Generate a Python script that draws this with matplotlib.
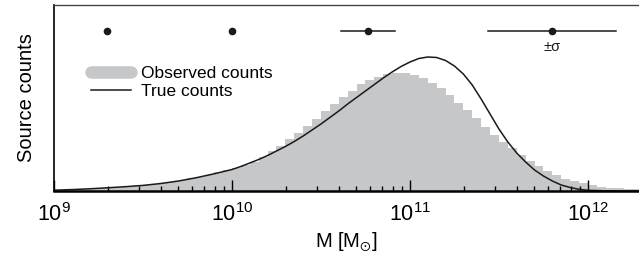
import numpy as np
import matplotlib
matplotlib.use("Agg")
import matplotlib.pyplot as plt
from matplotlib.lines import Line2D

plt.rcParams['font.family'] = ['Liberation Sans', 'DejaVu Sans']
plt.rcParams['mathtext.fontset'] = 'custom'
plt.rcParams['mathtext.rm'] = 'Liberation Sans'
plt.rcParams['mathtext.it'] = 'Liberation Sans:italic'
plt.rcParams['mathtext.bf'] = 'Liberation Sans:bold'
plt.rcParams['mathtext.fallback'] = 'stixsans'

# Histogram of observed counts: log10(M) bin edges start and width (dex)
bin_start = 9.0
bin_width = 0.05
observed_counts = [
    1.0, 1.3, 1.7, 2.2, 2.7, 3.2, 3.8, 4.4, 5.0, 5.6,
    6.4, 7.3, 8.3, 9.5, 11.0, 12.6, 14.5, 16.5, 18.7, 21.0,
    23.5, 26.5, 29.5, 34.5, 40.0, 45.5, 52.0, 58.0, 65.0, 72.0,
    80.0, 87.5, 94.0, 100.5, 107.0, 111.0, 114.5, 117.0, 118.0, 118.0,
    116.0, 113.0, 108.0, 103.0, 96.0, 88.0, 81.0, 73.0, 64.0, 56.0,
    49.0, 42.7, 36.0, 30.3, 25.0, 20.3, 16.0, 12.3, 9.7, 7.7,
    5.7, 4.3, 3.3, 2.7, 2.3, 2.0,
]

# True counts curve (log10 M, counts)
true_logm = [9.00, 9.10, 9.20, 9.30, 9.40, 9.50, 9.60, 9.70, 9.80, 9.90,
             10.00, 10.05, 10.10, 10.15, 10.20, 10.25, 10.30, 10.35, 10.40, 10.45,
             10.50, 10.55, 10.60, 10.65, 10.70, 10.75, 10.80, 10.85, 10.90, 10.95,
             11.00, 11.05, 11.10, 11.15, 11.20, 11.25, 11.30, 11.35, 11.40, 11.45,
             11.50, 11.55, 11.60, 11.65, 11.70, 11.75, 11.80, 11.85, 11.90, 11.95,
             12.00, 12.10, 12.20, 12.29]
true_counts = [0.8, 1.4, 2.2, 3.2, 4.3, 5.6, 7.5, 10.0, 13.3, 17.2,
               21.5, 24.5, 28.0, 31.5, 35.5, 40.0, 44.5, 49.5, 55.0, 61.0,
               67.0, 73.5, 80.0, 87.0, 93.5, 100.0, 106.5, 113.0, 119.0, 124.5,
               129.0, 132.5, 134.0, 133.5, 130.5, 125.0, 117.0, 106.0, 92.0, 77.0,
               62.0, 49.0, 38.0, 29.0, 21.0, 15.0, 10.0, 6.0, 3.5, 1.7,
               0.7, 0.2, 0.05, 0.0]

# Uncertainty markers: log10 M of point and +-sigma in dex
err_logm = [9.30, 10.00, 10.764, 11.80]
err_sigma = [0.0, 0.0, 0.15, 0.36]
err_level = 160.0

xlabel = r'M [M$_{\odot}$]'
ylabel = 'Source counts'

fig = plt.figure(figsize=(6.39, 2.61), dpi=100)
ax = fig.add_axes([54/639, 70/261, 585/639, 186/261])

edges = 10 ** (bin_start + bin_width * np.arange(len(observed_counts) + 1))
ax.stairs(observed_counts, edges, fill=True, color='#c6c7c9', linewidth=0)

ax.plot(10 ** np.array(true_logm), true_counts, color='#1a1a1a', lw=1.1)

for lm, s in zip(err_logm, err_sigma):
    ax.plot([10 ** (lm - s), 10 ** (lm + s)], [err_level, err_level], color='#1a1a1a', lw=1.1)
    ax.plot(10 ** lm, err_level, 'o', color='#1a1a1a', ms=4.5)
ax.text(10 ** err_logm[-1], err_level - 9, r'±σ', ha='center', va='top', fontsize=10.5, color='#1a1a1a')

ax.set_xscale('log')
ax.set_xlim(1e9, 10 ** 12.287)
ax.set_ylim(0, 186)
ax.set_yticks([])
ax.spines['right'].set_visible(False)
ax.spines['bottom'].set_linewidth(1.8)
ax.spines['left'].set_linewidth(1.2)
ax.spines['top'].set_linewidth(1.0)
ax.spines['top'].set_color('#444444')
ax.tick_params(axis='x', which='major', direction='in', length=8, width=1.0, labelsize=15.5, pad=9)
ax.tick_params(axis='x', which='minor', direction='in', length=3.8, width=1.0)
ax.set_xlabel(xlabel, fontsize=14.5, labelpad=3)
ax.set_ylabel(ylabel, fontsize=14.5, labelpad=13)

handles = [Line2D([], [], color='#c6c7c9', lw=9, solid_capstyle='round'),
           Line2D([], [], color='#1a1a1a', lw=1.1)]
ax.legend(handles, ['Observed counts', 'True counts'], loc='upper left',
          bbox_to_anchor=(0.048, 0.72), frameon=False, fontsize=12.5,
          handlelength=2.3, handletextpad=0.6, labelspacing=0.15, borderpad=0)

fig.savefig('out.png', dpi=100)
